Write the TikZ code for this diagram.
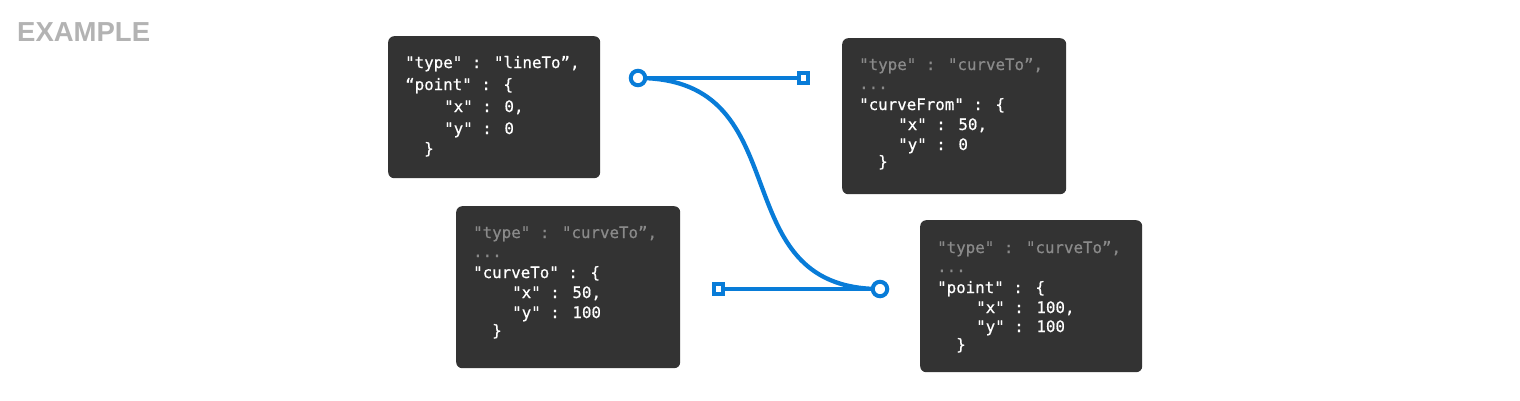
\documentclass[tikz,border=0pt]{standalone}
\usepackage{fontspec}
\setmainfont{Liberation Sans}
\newfontfamily\codefont[FakeBold=0.6]{DejaVu Sans Mono}
\definecolor{boxbg}{HTML}{333333}
\definecolor{dimtext}{HTML}{8A8A8A}
\definecolor{handleblue}{RGB}{8,124,216}
\definecolor{titlegray}{HTML}{B3B3B3}
\begin{document}
\begin{tikzpicture}[x=1pt,y=-1pt,
  codebox/.style={draw=none,fill=boxbg,rounded corners=6pt,anchor=north west,inner sep=0pt},
  codeline/.style={anchor=base west,inner sep=0pt,font=\codefont\fontsize{15.8}{18}\selectfont,text=white},
  dimline/.style={codeline,text=dimtext},
  handle/.style={draw=handleblue,line width=4.3pt},
  anchorpt/.style={circle,draw=handleblue,fill=white,line width=4pt,minimum size=14.5pt,inner sep=0pt},
  ctrlpt/.style={rectangle,draw=handleblue,fill=white,line width=4pt,minimum size=9.5pt,inner sep=0pt}]
\useasboundingbox (0,0) rectangle (1520,400);
\node[anchor=west,inner sep=0pt,font=\bfseries\fontsize{27.5}{30}\selectfont,text=titlegray] (title) at (17,32) {EXAMPLE};

% Box 1
\node[codebox,minimum width=212pt,minimum height=142pt] (b1) at (388,36) {};
\node[codeline] (b1l1) at (405,68) {"type" : "lineTo”,};
\node[codeline] (b1l2) at (405,90) {“point" : \{};
\node[codeline] (b1l3) at (444,112) {"x" : 0,};
\node[codeline] (b1l4) at (444,134) {"y" : 0};
\node[codeline] (b1l5) at (424,154) {\}};

% Box 2
\node[codebox,minimum width=224pt,minimum height=156pt] (b2) at (842,38) {};
\node[dimline] (b2l1) at (859,70) {"type" : "curveTo”,};
\node[dimline] (b2l2) at (859,89) {...};
\node[codeline] (b2l3) at (859,110) {"curveFrom" : \{};
\node[codeline] (b2l4) at (898,130) {"x" : 50,};
\node[codeline] (b2l5) at (898,150) {"y" : 0};
\node[codeline] (b2l6) at (878,167) {\}};

% Box 3
\node[codebox,minimum width=224pt,minimum height=162pt] (b3) at (456,206) {};
\node[dimline] (b3l1) at (473,238) {"type" : "curveTo”,};
\node[dimline] (b3l2) at (473,257) {...};
\node[codeline] (b3l3) at (473,278) {"curveTo" : \{};
\node[codeline] (b3l4) at (512,298) {"x" : 50,};
\node[codeline] (b3l5) at (512,318) {"y" : 100};
\node[codeline] (b3l6) at (492,336) {\}};

% Box 4
\node[codebox,minimum width=222pt,minimum height=152pt] (b4) at (920,220) {};
\node[dimline] (b4l1) at (937,253) {"type" : "curveTo”,};
\node[dimline] (b4l2) at (937,272) {...};
\node[codeline] (b4l3) at (937,293) {"point" : \{};
\node[codeline] (b4l4) at (976,313) {"x" : 100,};
\node[codeline] (b4l5) at (976,332) {"y" : 100};
\node[codeline] (b4l6) at (956,350) {\}};

% Handle points
\coordinate (p0) at (638,78);
\coordinate (c1) at (803.5,78);
\coordinate (c2) at (718.5,289);
\coordinate (p1) at (880,289);

\draw[handle] (p0) -- (c1);
\draw[handle] (c2) -- (p1);
\draw[handle] (p0) .. controls (c1) and (c2) .. (p1);

\node[anchorpt] (a0) at (p0) {};
\node[anchorpt] (a1) at (p1) {};
\node[ctrlpt] (k1) at (c1) {};
\node[ctrlpt] (k2) at (c2) {};
\end{tikzpicture}
\end{document}
